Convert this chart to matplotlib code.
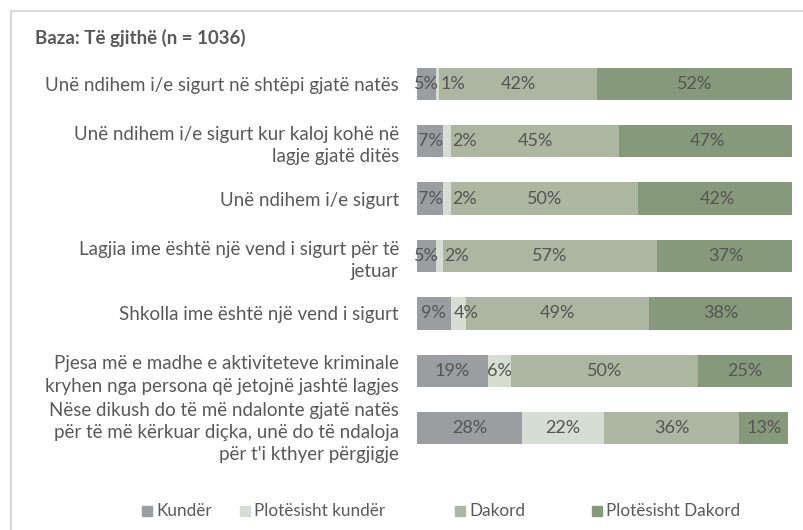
import matplotlib
matplotlib.use("Agg")
import matplotlib.pyplot as plt
from matplotlib.patches import Rectangle
from matplotlib.lines import Line2D

plt.rcParams['font.family'] = ['Lato', 'DejaVu Sans']

title = "Baza: Të gjithë (n = 1036)"
categories = [
    "Unë ndihem i/e sigurt në shtëpi gjatë natës",
    "Unë ndihem i/e sigurt kur kaloj kohë në\nlagje gjatë ditës",
    "Unë ndihem i/e sigurt",
    "Lagjia ime është një vend i sigurt për të\njetuar",
    "Shkolla ime është një vend i sigurt",
    "Pjesa më e madhe e aktiviteteve kriminale\nkryhen nga persona që jetojnë jashtë lagjes",
    "Nëse dikush do të më ndalonte gjatë natës\npër të më kërkuar diçka, unë do të ndaloja\npër t'i kthyer përgjigje",
]
series_names = ["Kundër", "Plotësisht kundër", "Dakord", "Plotësisht Dakord"]
kunder = [5, 7, 7, 5, 9, 19, 28]
plotesisht_kunder = [1, 2, 2, 2, 4, 6, 22]
dakord = [42, 45, 50, 57, 49, 50, 36]
plotesisht_dakord = [52, 47, 42, 37, 38, 25, 13]
series_values = [kunder, plotesisht_kunder, dakord, plotesisht_dakord]
colors = ["#9a9ea1", "#d6ddd2", "#adb6a1", "#87997b"]
text_color = "#595959"

fig = plt.figure(figsize=(8.04, 5.30), dpi=100)
ax = fig.add_axes([417/804, 1-457/530, 375/804, 402/530])

y = list(range(len(categories)))
left = [0]*len(categories)
for si, (name, vals, col) in enumerate(zip(series_names, series_values, colors)):
    ax.barh(y, vals, left=left, height=0.56, color=col, label=name)
    for yi, l, v in zip(y, left, vals):
        if si == 1 and v <= 2:
            ax.text(l + v + 0.3, yi, f"{v}%", ha="left", va="center",
                    fontsize=13, color="#555555")
        elif si == 1 and v <= 4:
            ax.text(l + 0.8, yi, f"{v}%", ha="left", va="center",
                    fontsize=13, color="#555555")
        else:
            ax.text(l + v/2, yi, f"{v}%", ha="center", va="center",
                    fontsize=13, color="#555555")
    left = [a + b for a, b in zip(left, vals)]

ax.set_xlim(0, 100)
ax.set_ylim(len(categories)-0.5, -0.5)
ax.set_yticks(y)
ax.set_yticklabels(categories, fontsize=13.5, color=text_color, ha="right",
                   linespacing=1.38)
ax.tick_params(axis="y", length=0, pad=13)
ax.set_xticks([])
for s in ax.spines.values():
    s.set_visible(False)

fig.text(35/804, 1-38/530, title, fontsize=13.5, fontweight="bold",
         color=text_color, ha="left", va="center")

# border
fig.add_artist(Line2D([11/804, 11/804], [0, 1-11/530], color="#d9d9d9", lw=1.5,
                      transform=fig.transFigure))
fig.add_artist(Line2D([11/804, 1], [1-11/530, 1-11/530], color="#d9d9d9", lw=1.5,
                      transform=fig.transFigure))

# legend
leg_x = [142, 240, 455, 592]
ly = 1-511/530
for name, col, lx in zip(series_names, colors, leg_x):
    fig.add_artist(Rectangle((lx/804, ly-5/530), 10/804, 10/530, color=col,
                             transform=fig.transFigure))
    fig.text((lx+14)/804, ly, name, fontsize=12.3, color=text_color,
             ha="left", va="center")

fig.savefig("out.png", dpi=100)
